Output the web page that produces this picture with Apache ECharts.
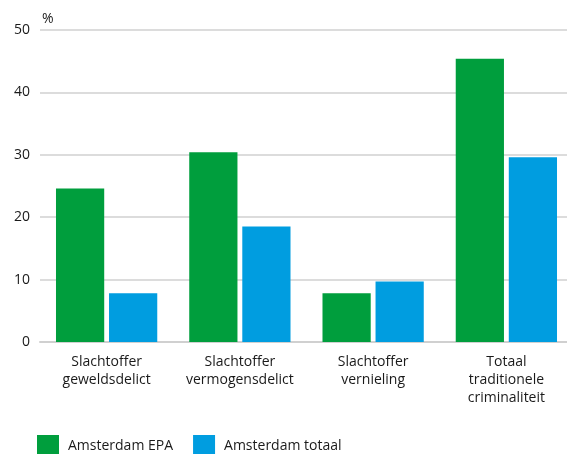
<!DOCTYPE html>
<html>
<head>
<meta charset="utf-8">
<script src="https://cdn.jsdelivr.net/npm/echarts@6/dist/echarts.min.js"></script>
<style>
  html, body { margin: 0; padding: 0; background: #fff; }
  #chart { width: 567px; height: 454px; }
</style>
</head>
<body>
<div id="chart"></div>
<script>
// Slachtofferschap per soort delict, in procenten
const categories = [
  'Slachtoffer\ngeweldsdelict',
  'Slachtoffer\nvermogensdelict',
  'Slachtoffer\nvernieling',
  'Totaal\ntraditionele\ncriminaliteit'
];
const seriesNames = ['Amsterdam EPA', 'Amsterdam totaal'];
const epaValues = [24.6, 30.4, 7.8, 45.4];
const totaalValues = [7.8, 18.5, 9.7, 29.6];
const yTicks = [0, 10, 20, 30, 40, 50];

const FONT = '"Open Sans", "Noto Sans", sans-serif';
const TEXT = '#1a1a1a';

const chart = echarts.init(document.getElementById('chart'), null, { renderer: 'canvas' });
chart.setOption({
  animation: false,
  textStyle: { fontFamily: FONT },
  // the plot area runs a little past the right edge of the canvas
  grid: {
    left: 40, width: 533, top: 30, height: 312,
    containLabel: false, outerBoundsMode: 'none'
  },
  legend: {
    left: 32,
    bottom: -8,
    itemWidth: 22,
    itemHeight: 22,
    itemGap: 20,
    icon: 'rect',
    textStyle: { fontFamily: FONT, fontSize: 14, color: TEXT, padding: [0, 0, 0, 4] },
    data: seriesNames
  },
  xAxis: {
    type: 'category',
    data: categories,
    axisTick: { show: false },
    axisLine: { show: true, lineStyle: { color: '#d0d0d0', width: 2 } },
    axisLabel: {
      interval: 0,
      fontFamily: FONT, fontSize: 14, color: TEXT, lineHeight: 18, margin: 11
    }
  },
  yAxis: {
    type: 'value',
    min: yTicks[0],
    max: yTicks[yTicks.length - 1],
    interval: 10,
    name: '%',
    nameLocation: 'end',
    nameGap: 4,
    nameTextStyle: { fontFamily: FONT, fontSize: 14, color: TEXT, align: 'left', padding: [0, 0, 0, 2] },
    axisLine: { show: false },
    axisTick: { show: false },
    axisLabel: { fontFamily: FONT, fontSize: 14, color: TEXT, margin: 10 },
    splitLine: { lineStyle: { color: '#d0d0d0', width: 1.5 } }
  },
  series: [
    {
      name: seriesNames[0], type: 'bar', data: epaValues,
      itemStyle: { color: '#009E3D' },
      barGap: '10%', barCategoryGap: '24%'
    },
    {
      name: seriesNames[1], type: 'bar', data: totaalValues,
      itemStyle: { color: '#009DE0' },
      barGap: '10%', barCategoryGap: '24%'
    }
  ]
});
</script>
</body>
</html>
